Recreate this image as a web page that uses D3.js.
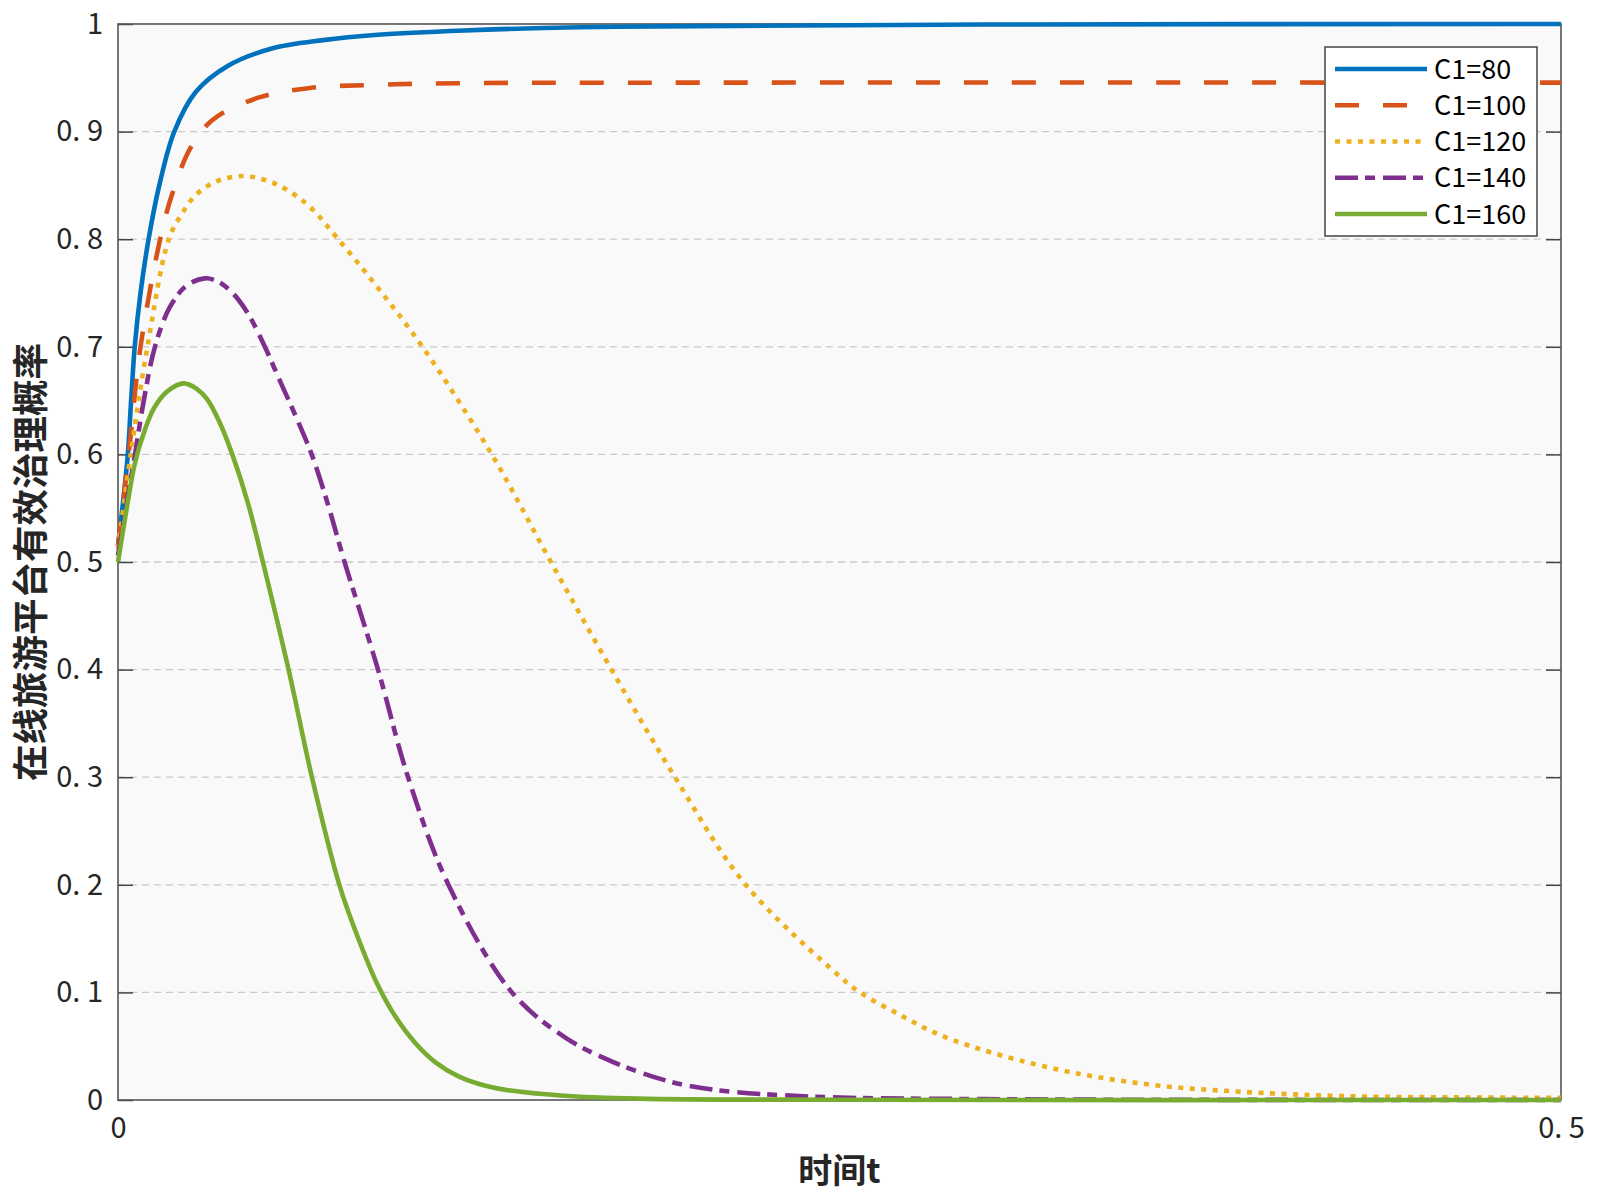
<!DOCTYPE html>
<html>
<head>
<meta charset="utf-8">
<script src="https://cdn.jsdelivr.net/npm/d3@7"></script>
<style>
  html, body { margin: 0; padding: 0; background: #ffffff; }
  svg { display: block; }
</style>
</head>
<body>
<svg id="chart" width="1600" height="1200"></svg>
<script>
// ---------------- data ----------------
const seriesNames = ["C1=80", "C1=100", "C1=120", "C1=140", "C1=160"];

const c80 = [[0,0.515],[0.0016,0.552],[0.0034,0.6],[0.0045,0.648],[0.0058,0.7],[0.0078,0.75],[0.0106,0.8],[0.0143,0.85],[0.0195,0.9],[0.027,0.937],[0.038,0.961],[0.053,0.977],[0.071,0.985],[0.09,0.99],[0.12,0.994],[0.16,0.997],[0.2,0.998],[0.3,0.9995],[0.5,1.0]];

const c100 = [[0,0.515],[0.0037,0.6],[0.0078,0.7],[0.0146,0.8],[0.0183,0.838],[0.0238,0.878],[0.0288,0.9],[0.0343,0.914],[0.0492,0.932],[0.0665,0.9406],[0.09,0.9435],[0.12,0.945],[0.2,0.9455],[0.5,0.9455]];

const c120 = [[0,0.512],[0.0044,0.6],[0.0102,0.7],[0.0176,0.8],[0.022,0.823],[0.0269,0.841],[0.0343,0.854],[0.043,0.8587],[0.051,0.855],[0.0585,0.846],[0.0665,0.83],[0.0763,0.8],[0.09,0.755],[0.1055,0.7],[0.1295,0.6],[0.15,0.5],[0.171,0.4],[0.193,0.3],[0.2175,0.2],[0.2502,0.1146],[0.2571,0.1],[0.271,0.079],[0.2848,0.0604],[0.3056,0.0418],[0.3333,0.0242],[0.361,0.0133],[0.3888,0.0077],[0.4234,0.0037],[0.46,0.0025],[0.5,0.002]];

const c140 = [[0,0.506],[0.003,0.555],[0.0059,0.6],[0.0088,0.648],[0.0128,0.7],[0.018,0.737],[0.0238,0.757],[0.0301,0.7636],[0.034,0.7614],[0.038,0.7544],[0.042,0.7428],[0.046,0.7264],[0.0509,0.7],[0.056,0.669],[0.0615,0.636],[0.0671,0.6],[0.0728,0.553],[0.0785,0.5],[0.0901,0.4],[0.1005,0.3],[0.1145,0.2],[0.1365,0.1],[0.155,0.058],[0.171,0.036],[0.19,0.018],[0.2065,0.0095],[0.242,0.003],[0.3,0.0008],[0.4,0.0001],[0.5,0]];

const c160 = [[0,0.5],[0.0029,0.548],[0.0058,0.591],[0.0092,0.622],[0.0127,0.644],[0.0173,0.659],[0.0228,0.666],[0.0275,0.6605],[0.031,0.651],[0.035,0.631],[0.0396,0.6],[0.045,0.555],[0.0502,0.5],[0.0591,0.4],[0.0672,0.3],[0.0767,0.2],[0.083,0.152],[0.0898,0.108],[0.096,0.078],[0.103,0.053],[0.11,0.035],[0.118,0.022],[0.127,0.0135],[0.136,0.0088],[0.1535,0.0042],[0.18,0.0013],[0.25,0.0002],[0.5,0]];

const yTickValues = [0,0.1,0.2,0.3,0.4,0.5,0.6,0.7,0.8,0.9,1];
const yTickLabels = ["0","0. 1","0. 2","0. 3","0. 4","0. 5","0. 6","0. 7","0. 8","0. 9","1"];
const xTickValues = [0,0.5];
const xTickLabels = ["0","0. 5"];
const xLabel = "时间t";
const yLabel = "在线旅游平台有效治理概率";

// ---------------- styles ----------------
const colors = ["#0072BD","#D95319","#EDB120","#7E2F8E","#77AC30"];
const dashes = [null, "24,24", "5,6.5", "23,7,10,8", null];
const font = "'Noto Sans CJK SC', 'Noto Sans', sans-serif";

const L = 118, R = 1561, T = 24, B = 1100;
const svg = d3.select("#chart");

const x = d3.scaleLinear().domain([0,0.5]).range([L,R]);
const y = d3.scaleLinear().domain([0,1]).range([B,T]);

// plot background
svg.append("rect").attr("x",L).attr("y",T).attr("width",R-L).attr("height",B-T)
  .attr("fill","#f9f9f9");

// grid lines
svg.append("g").selectAll("line").data(yTickValues.filter(v => v > 0 && v < 1)).join("line")
  .attr("x1",L).attr("x2",R).attr("y1",d=>y(d)).attr("y2",d=>y(d))
  .attr("stroke","#c9c9c9").attr("stroke-width",1.3).attr("stroke-dasharray","7,5");

// axes
const yAxis = d3.axisLeft(y).tickValues(yTickValues)
  .tickFormat((d,i)=>yTickLabels[i]).tickSizeInner(-15).tickSizeOuter(0).tickPadding(15);
const gy = svg.append("g").attr("transform",`translate(${L},0)`).call(yAxis);
gy.select(".domain").remove();
gy.selectAll(".tick line").attr("stroke","#444").attr("stroke-width",1.5);
gy.selectAll(".tick text").attr("font-family",font).attr("font-size",29).attr("fill","#262626");

const yAxisR = d3.axisRight(y).tickValues(yTickValues).tickFormat("").tickSizeInner(-15).tickSizeOuter(0);
const gyr = svg.append("g").attr("transform",`translate(${R},0)`).call(yAxisR);
gyr.select(".domain").remove();
gyr.selectAll(".tick line").attr("stroke","#444").attr("stroke-width",1.5);

const xAxis = d3.axisBottom(x).tickValues(xTickValues)
  .tickFormat((d,i)=>xTickLabels[i]).tickSizeInner(0).tickSizeOuter(0).tickPadding(17);
const gx = svg.append("g").attr("transform",`translate(0,${B})`).call(xAxis);
gx.select(".domain").remove();
gx.selectAll(".tick text").attr("font-family",font).attr("font-size",29).attr("fill","#262626");

// box
svg.append("rect").attr("x",L).attr("y",T).attr("width",R-L).attr("height",B-T)
  .attr("fill","none").attr("stroke","#555").attr("stroke-width",1.6);

// lines
const line = d3.line().x(d=>x(d[0])).y(d=>y(Math.max(0,d[1]))).curve(d3.curveCatmullRom.alpha(0.5));
const allSeries = [c80, c100, c120, c140, c160];
allSeries.forEach((s,i)=>{
  const p = svg.append("path").datum(s).attr("d",line)
    .attr("fill","none").attr("stroke",colors[i]).attr("stroke-width",4.6)
    .attr("stroke-linejoin","round");
  if (dashes[i]) p.attr("stroke-dasharray",dashes[i]);
});

// axis labels
svg.append("text").attr("x",(L+R)/2).attr("y",1183).attr("text-anchor","middle")
  .attr("font-family",font).attr("font-size",34).attr("font-weight","bold").attr("fill","#262626")
  .text(xLabel);
svg.append("text").attr("transform",`translate(44,${(T+B)/2}) rotate(-90)`).attr("text-anchor","middle")
  .attr("font-family",font).attr("font-size",36.5).attr("font-weight","bold").attr("fill","#262626")
  .text(yLabel);

// legend
const lg = svg.append("g");
lg.append("rect").attr("x",1325).attr("y",47).attr("width",212).attr("height",189)
  .attr("fill","#ffffff").attr("stroke","#444").attr("stroke-width",1.5);
const rowY = d3.scaleLinear().domain([0,4]).range([69,214]);
seriesNames.forEach((n,i)=>{
  const ly = rowY(i);
  const l = lg.append("line").attr("x1",1335).attr("x2",1427).attr("y1",ly).attr("y2",ly)
    .attr("stroke",colors[i]).attr("stroke-width",4.6);
  if (dashes[i]) l.attr("stroke-dasharray",dashes[i]);
  lg.append("text").attr("x",1434).attr("y",ly).attr("dy","0.36em")
    .attr("font-family",font).attr("font-size",27).attr("fill","#000")
    .text(n);
});
</script>
</body>
</html>
